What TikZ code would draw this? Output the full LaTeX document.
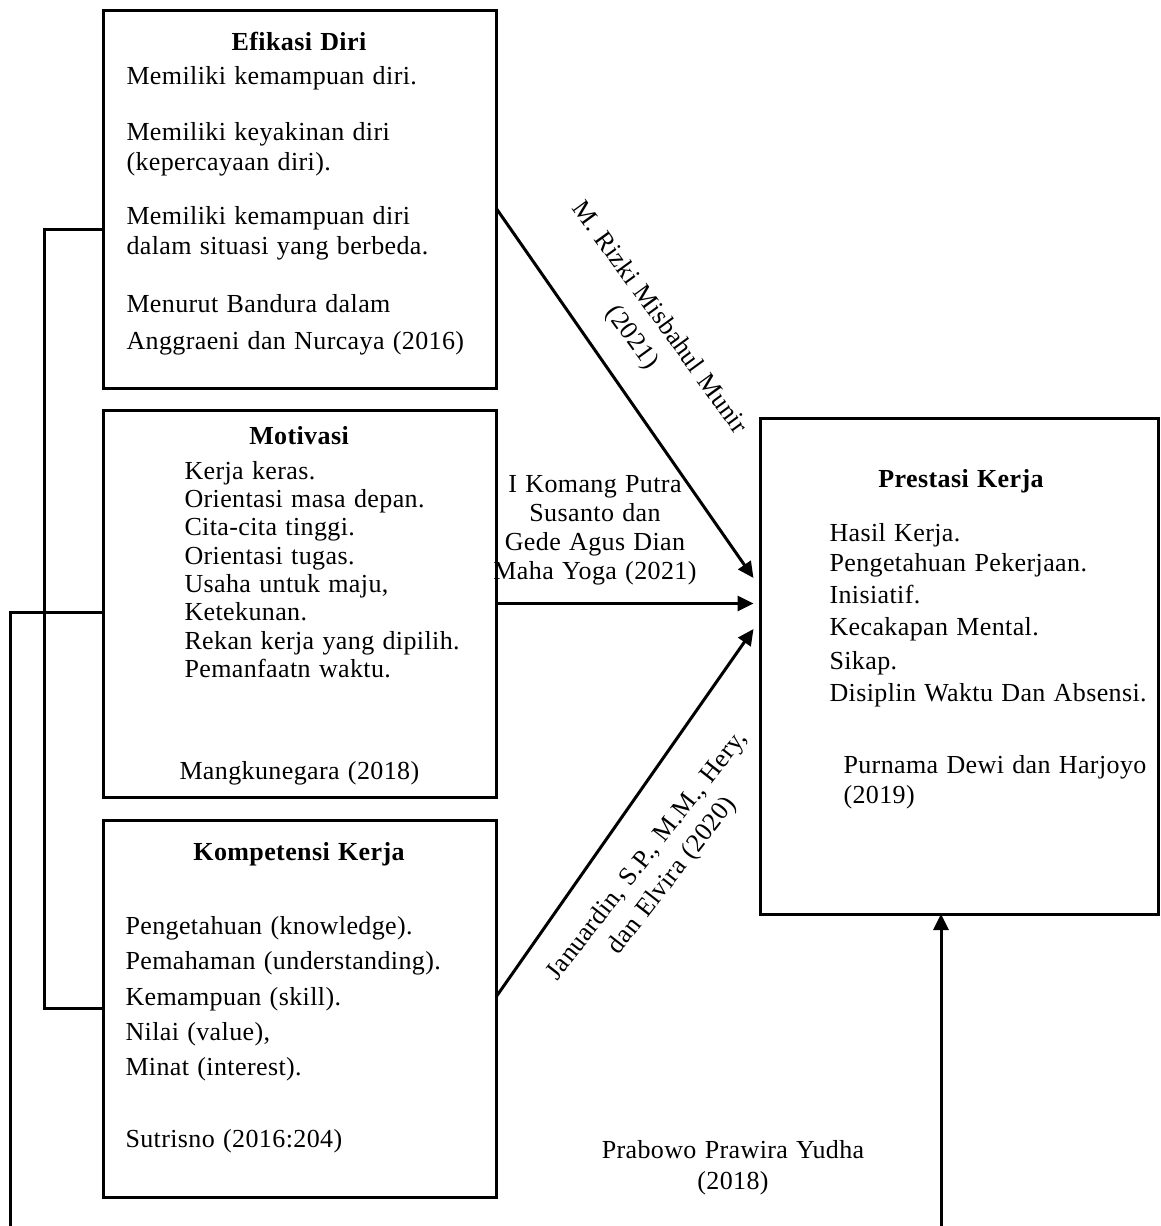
\documentclass[tikz,border=0pt]{standalone}
\usepackage{fontspec}
\setmainfont{Liberation Serif}[LetterSpace=1.5,WordSpace=1.2]
\usetikzlibrary{arrows.meta}
\begin{document}
\begin{tikzpicture}[x=0.5pt,y=-0.5pt,line width=1.5pt,
  box/.style={draw,rectangle,inner sep=0pt,outer sep=0pt},
  txt/.style={anchor=base west,inner sep=0pt,font=\fontsize{13}{15}\selectfont},
  ttl/.style={anchor=base,inner sep=0pt,font=\fontsize{13}{15}\selectfont\bfseries},
  lbl/.style={align=center,inner sep=0pt},
  arr/.style={-{Triangle[length=8pt,width=7.5pt]}}]
\useasboundingbox (0,0) rectangle (1161,1226);
% boxes
\node[box,minimum width=196.5pt,minimum height=189pt] (ef) at (299.5,199) {};
\node[box,minimum width=196.5pt,minimum height=193.5pt] (mo) at (299.5,603.5) {};
\node[box,minimum width=196.5pt,minimum height=188.5pt] (ko) at (299.5,1008.5) {};
\node[box,minimum width=199pt,minimum height=248pt] (pr) at (959.5,666) {};
% Efikasi Diri
\node[ttl] (ef-t) at (299,50) {Efikasi Diri};
\foreach \yy/\lab [count=\i] in {77/{Memiliki kemampuan diri.},133/{Memiliki keyakinan diri},163/{(kepercayaan diri).},217/{Memiliki kemampuan diri},247/{dalam situasi yang berbeda.},305/{Menurut Bandura dalam},342/{Anggraeni dan Nurcaya (2016)}}
  \node[txt] (ef-\i) at (125,\yy+7) {\lab};
% Motivasi
\node[ttl] (mo-t) at (299,444) {Motivasi};
\foreach \yy/\lab [count=\i] in {472/{Kerja keras.},500/{Orientasi masa depan.},528/{Cita-cita tinggi.},557/{Orientasi tugas.},585/{Usaha untuk maju,},613/{Ketekunan.},642/{Rekan kerja yang dipilih.},670/{Pemanfaatn waktu.}}
  \node[txt] (mo-\i) at (183,\yy+7) {\lab};
\node[txt] (mo-r) at (178,779) {Mangkunegara (2018)};
% Kompetensi Kerja
\node[ttl] (ko-t) at (299,860) {Kompetensi Kerja};
\foreach \yy/\lab [count=\i] in {927/{Pengetahuan (knowledge).},962/{Pemahaman (understanding).},998/{Kemampuan (skill).},1033/{Nilai (value),},1068/{Minat (interest).},1140/{Sutrisno (2016:204)}}
  \node[txt] (ko-\i) at (124,\yy+7) {\lab};
% Prestasi Kerja
\node[ttl] (pr-t) at (961,487) {Prestasi Kerja};
\foreach \yy/\lab [count=\i] in {534/{Hasil Kerja.},564/{Pengetahuan Pekerjaan.},596/{Inisiatif.},628/{Kecakapan Mental.},662/{Sikap.},694/{Disiplin Waktu Dan Absensi.}}
  \node[txt] (pr-\i) at (828,\yy+7) {\lab};
\node[txt] (pr-r1) at (842,773) {Purnama Dewi dan Harjoyo};
\node[txt] (pr-r2) at (842,803) {(2019)};
% left brackets
\draw ([yshift=-15pt]ef.west) -- ++(-59,0) |- (ko.west);
\coordinate (loopA) at (10,1226);
\coordinate (loopB) at (941,1226);
\draw ([yshift=-4.25pt]mo.west) -| (loopA);
% arrows
\draw[arr] ([yshift=-4.5pt]ef.east) -- ([xshift=-3.5pt,yshift=44pt]pr.west);
\draw[arr] (mo.east) -- ([xshift=-3.5pt,yshift=31.25pt]pr.west);
\draw[arr] ([yshift=5.75pt]ko.east) -- ([xshift=-3.5pt,yshift=18.5pt]pr.west);
\draw[arr] (loopB) -- (loopB |- pr.south);
% labels
\node[lbl,font=\fontsize{13}{14.5}\selectfont] (l1) at (595,530) {I Komang Putra\\Susanto dan\\Gede Agus Dian\\Maha Yoga (2021)};
\node[lbl,rotate=-54,font=\fontsize{13}{17}\selectfont] (l2) at (645,328) {M. Rizki Misbahul Munir\\(2021)};
\node[lbl,rotate=52,font=\fontsize{13}{16}\selectfont] (l3) at (660,866) {Januardin, S.P., M.M., Hery,\\dan Elvira (2020)};
\node[lbl,font=\fontsize{13}{15.5}\selectfont] (l4) at (733,1168) {Prabowo Prawira Yudha\\(2018)};
\end{tikzpicture}
\end{document}
